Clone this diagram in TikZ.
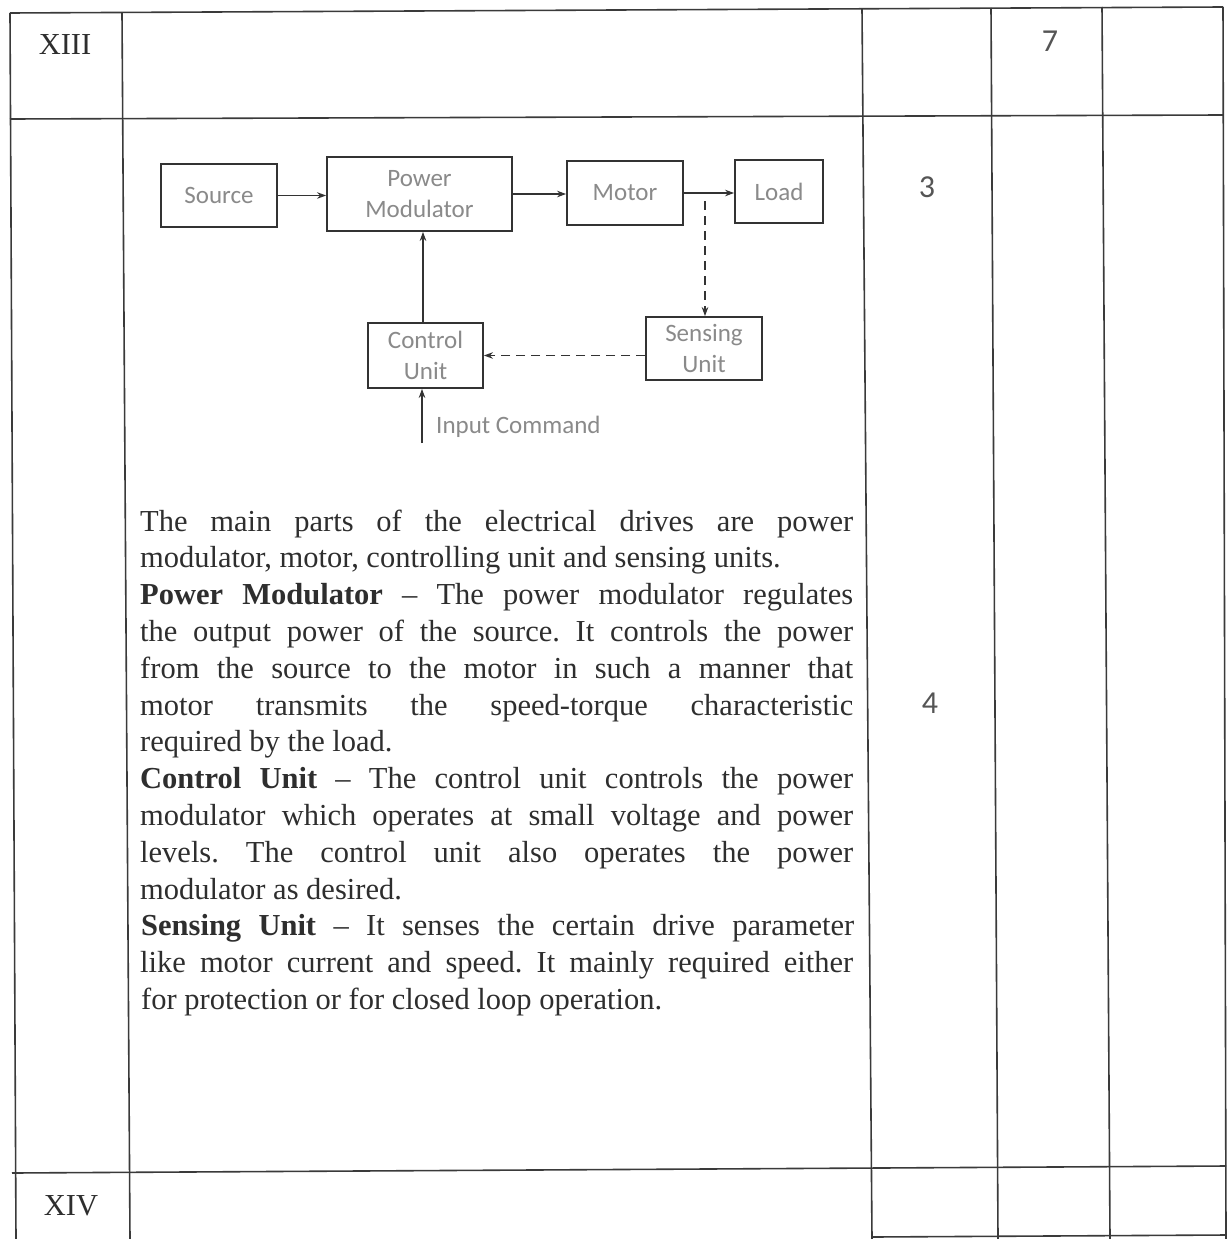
\documentclass[tikz,border=0pt]{standalone}
\usepackage{fontspec}
\setmainfont{Liberation Serif}
\newfontfamily\carlito{Carlito}
\usetikzlibrary{arrows.meta}
\definecolor{ink}{HTML}{2E2E2E}
\definecolor{rule}{HTML}{3A3A3A}
\definecolor{boxline}{HTML}{333333}
\definecolor{boxtext}{HTML}{8A8A8A}
\definecolor{numink}{HTML}{555555}
\tikzset{
  tabline/.style={draw=rule, line width=1.6pt},
  blk/.style={draw=boxline, line width=1.8pt, inner sep=0pt, align=center,
    text=boxtext, font=\carlito\fontsize{25}{30.5}\selectfont},
  flow/.style={draw=boxline, line width=1.4pt, -{Stealth[length=9pt,width=6.5pt]}},
  dflow/.style={flow, dash pattern=on 9pt off 6pt},
  bodyline/.style={anchor=base west, inner sep=0pt, text=ink,
    font=\fontsize{30.5}{36.8}\selectfont\frenchspacing},
  roman/.style={text=ink, font=\fontsize{30.5}{36}\selectfont},
  mark num/.style={text=numink, font=\carlito\fontsize{32}{36}\selectfont}
}
\newcommand{\jline}[1]{\makebox[713pt][s]{#1}}
\begin{document}
\begin{tikzpicture}[x=1pt,y=-1pt]
\useasboundingbox (0,0) rectangle (1226,1239);
\fill[white] (0,0) rectangle (1226,1239);

% table rules
\coordinate (tl) at (10,13);
\coordinate (tr) at (1223,7);
\draw[tabline] (tl) -- (tr);
\draw[tabline] (10,119) -- (1223,115);
\draw[tabline] (12,1173) -- (1226,1166);
\draw[tabline] (872,1237) -- (1226,1235);
\draw[tabline] (10,13) -- (16,1239);
\draw[tabline] (122,13) -- (130,1239);
\draw[tabline] (862,9) -- (872,1239);
\draw[tabline] (991,8) -- (998,1239);
\draw[tabline] (1102,7) -- (1110,1239);
\draw[tabline] (1223,7) -- (1226,1239);

% row labels and marks
\node[roman] (r13) at (65,45) {XIII};
\node[roman] (r14) at (71,1206) {XIV};
\node[mark num] (m7) at (1050,41) {7};
\node[mark num] (m3) at (927,187) {3};
\node[mark num] (m4) at (930,703) {4};

% block diagram
\node[blk, minimum width=116pt, minimum height=63pt] (src) at (219,195.5) {Source};
\node[blk, minimum width=185pt, minimum height=74pt] (pm) at (419.5,194) {Power\\Modulator};
\node[blk, minimum width=116pt, minimum height=64pt] (mot) at (625,193) {Motor};
\node[blk, minimum width=88pt, minimum height=63pt] (load) at (779,191.5) {Load};
\node[blk, minimum width=115pt, minimum height=65pt] (cu) at (425.5,355.5) {Control\\Unit};
\node[blk, minimum width=116pt, minimum height=63pt] (su) at (704,348.5) {Sensing\\Unit};

\draw[flow] (src.east) -- (src.east -| pm.west);
\draw[flow] (pm.east) -- (pm.east -| mot.west);
\draw[flow] (mot.east) -- (mot.east -| load.west);
\coordinate (tap) at (705,201);
\draw[dflow] (tap) -- (tap |- su.north);
\draw[dflow] (su.west |- cu.east) -- (cu.east);
\draw[flow] ([xshift=-2.5pt]cu.north) -- ([xshift=-2.5pt]cu.north |- pm.south);
\coordinate (cmd) at (422,443);
\draw[flow] (cmd) -- (cmd |- cu.south);
\node[anchor=west, inner sep=0pt, text=boxtext, font=\carlito\fontsize{25}{30}\selectfont] (cmdlbl) at (436,427) {Input Command};

% body text
\node[bodyline] (l1) at (140,531.0) {\jline{The main parts of the electrical drives are power}};
\node[bodyline] (l2) at (140,567.8) {modulator, motor, controlling unit and sensing units.};
\node[bodyline] (l3) at (140,604.6) {\jline{\textbf{Power Modulator} – The power modulator regulates}};
\node[bodyline] (l4) at (140,641.4) {\jline{the output power of the source. It controls the power}};
\node[bodyline] (l5) at (140,678.2) {\jline{from the source to the motor in such a manner that}};
\node[bodyline] (l6) at (140,715.0) {\jline{motor transmits the speed-torque characteristic}};
\node[bodyline] (l7) at (140,751.8) {required by the load.};
\node[bodyline] (l8) at (140,788.6) {\jline{\textbf{Control Unit} – The control unit controls the power}};
\node[bodyline] (l9) at (140,825.4) {\jline{modulator which operates at small voltage and power}};
\node[bodyline] (l10) at (140,862.2) {\jline{levels. The control unit also operates the power}};
\node[bodyline] (l11) at (140,899.0) {modulator as desired.};
\node[bodyline] (l12) at (141,935.8) {\jline{\textbf{Sensing Unit} – It senses the certain drive parameter}};
\node[bodyline] (l13) at (140,972.6) {\jline{like motor current and speed. It mainly required either}};
\node[bodyline] (l14) at (141,1009.4) {for protection or for closed loop operation.};
\end{tikzpicture}
\end{document}
